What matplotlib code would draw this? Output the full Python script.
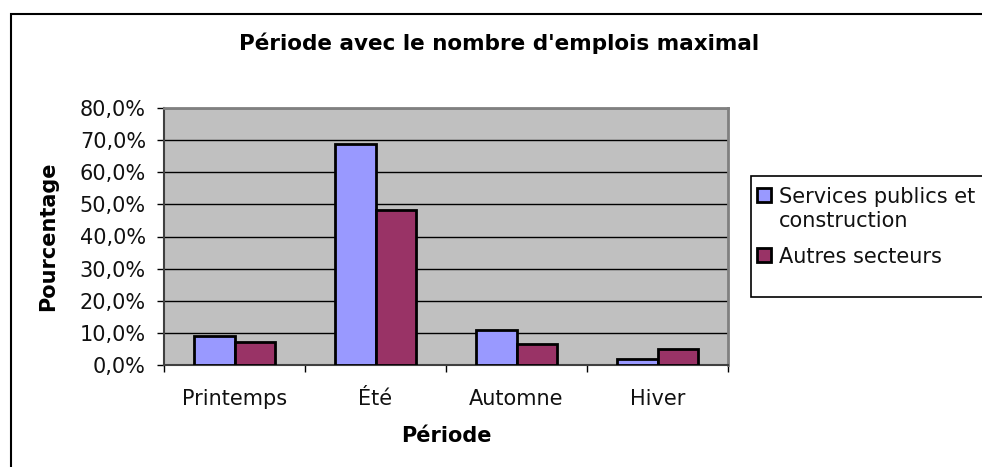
import matplotlib

matplotlib.use("Agg")
import matplotlib.pyplot as plt
import numpy as np
from matplotlib.patches import Rectangle
from matplotlib.ticker import FuncFormatter, MultipleLocator

categories = ["Printemps", "Été", "Automne", "Hiver"]
services_publics = [9.0, 68.9, 11.0, 1.9]
autres_secteurs = [7.3, 48.4, 6.5, 5.0]
series_names = ["Services publics et\nconstruction", "Autres secteurs"]
series_colors = ["#9999FF", "#993366"]

plt.rcParams["font.family"] = ["DejaVu Sans"]

fig = plt.figure(figsize=(9.82, 4.67), dpi=100)
fig.patch.set_facecolor("white")

# outer chart frame (right and bottom sides fall outside the image)
fig.add_artist(Rectangle((11 / 982, -0.05), 1.2, (467 - 14) / 467 + 0.05,
                         transform=fig.transFigure, facecolor="none",
                         edgecolor="black", linewidth=1.5))

ax = fig.add_axes([164 / 982, 102 / 467, 564 / 982, 257 / 467])
ax.set_facecolor("#C0C0C0")

x = np.arange(len(categories))
width = 0.287
for offset, values, color, name in zip((-width / 2, width / 2),
                                       (services_publics, autres_secteurs),
                                       series_colors, series_names):
    ax.bar(x + offset, values, width=width, color=color, edgecolor="black",
           linewidth=2, label=name, zorder=3)

ax.set_xlim(-0.5, len(categories) - 0.5)
ax.set_ylim(0, 80)
ax.yaxis.set_major_locator(MultipleLocator(10))
ax.yaxis.set_major_formatter(FuncFormatter(lambda v, _: f"{v:.1f}%".replace(".", ",")))
ax.grid(axis="y", color="black", linewidth=1, zorder=1)

ax.set_xticks(x)
ax.set_xticklabels(categories)
ax.set_xticks(np.arange(len(categories) + 1) - 0.5, minor=True)
ax.tick_params(axis="x", which="major", length=0, pad=17, labelsize=15, labelcolor="#111111")
ax.tick_params(axis="x", which="minor", length=5, width=1, direction="out")
ax.tick_params(axis="y", length=5, width=1, direction="out", pad=8, labelsize=15, labelcolor="#111111")

for side in ("top", "right"):
    ax.spines[side].set_color("#808080")
    ax.spines[side].set_linewidth(2)
ax.spines["left"].set_color("#404040")
ax.spines["left"].set_linewidth(1.5)
ax.spines["bottom"].set_color("#404040")
ax.spines["bottom"].set_linewidth(1.5)

ax.set_xlabel("Période", fontsize=15, fontweight="bold")
ax.set_ylabel("Pourcentage", fontsize=15, fontweight="bold")
ax.xaxis.set_label_coords(0.5, -0.236)
ax.yaxis.set_label_coords(-0.187, 0.5)

fig.text(499 / 982, 1 - 43 / 467, "Période avec le nombre d'emplois maximal",
         ha="center", va="center", fontsize=15.5, fontweight="bold")

# legend box (extends past the right edge of the image)
fig.add_artist(Rectangle((751 / 982, 1 - 297 / 467), 0.5, 121 / 467,
                         transform=fig.transFigure, facecolor="white",
                         edgecolor="black", linewidth=1.2))
legend_rows = [195, 255]
for row_y, name, color in zip(legend_rows, series_names, series_colors):
    fig.add_artist(Rectangle((757 / 982, 1 - (row_y + 7) / 467), 14 / 982, 14 / 467,
                             transform=fig.transFigure, facecolor=color,
                             edgecolor="black", linewidth=2))
    for i, line in enumerate(name.split("\n")):
        fig.text(779 / 982, 1 - (row_y + 24 * i) / 467, line, ha="left",
                 va="center_baseline", fontsize=15, color="#111111")

fig.savefig("out.png", dpi=100)
